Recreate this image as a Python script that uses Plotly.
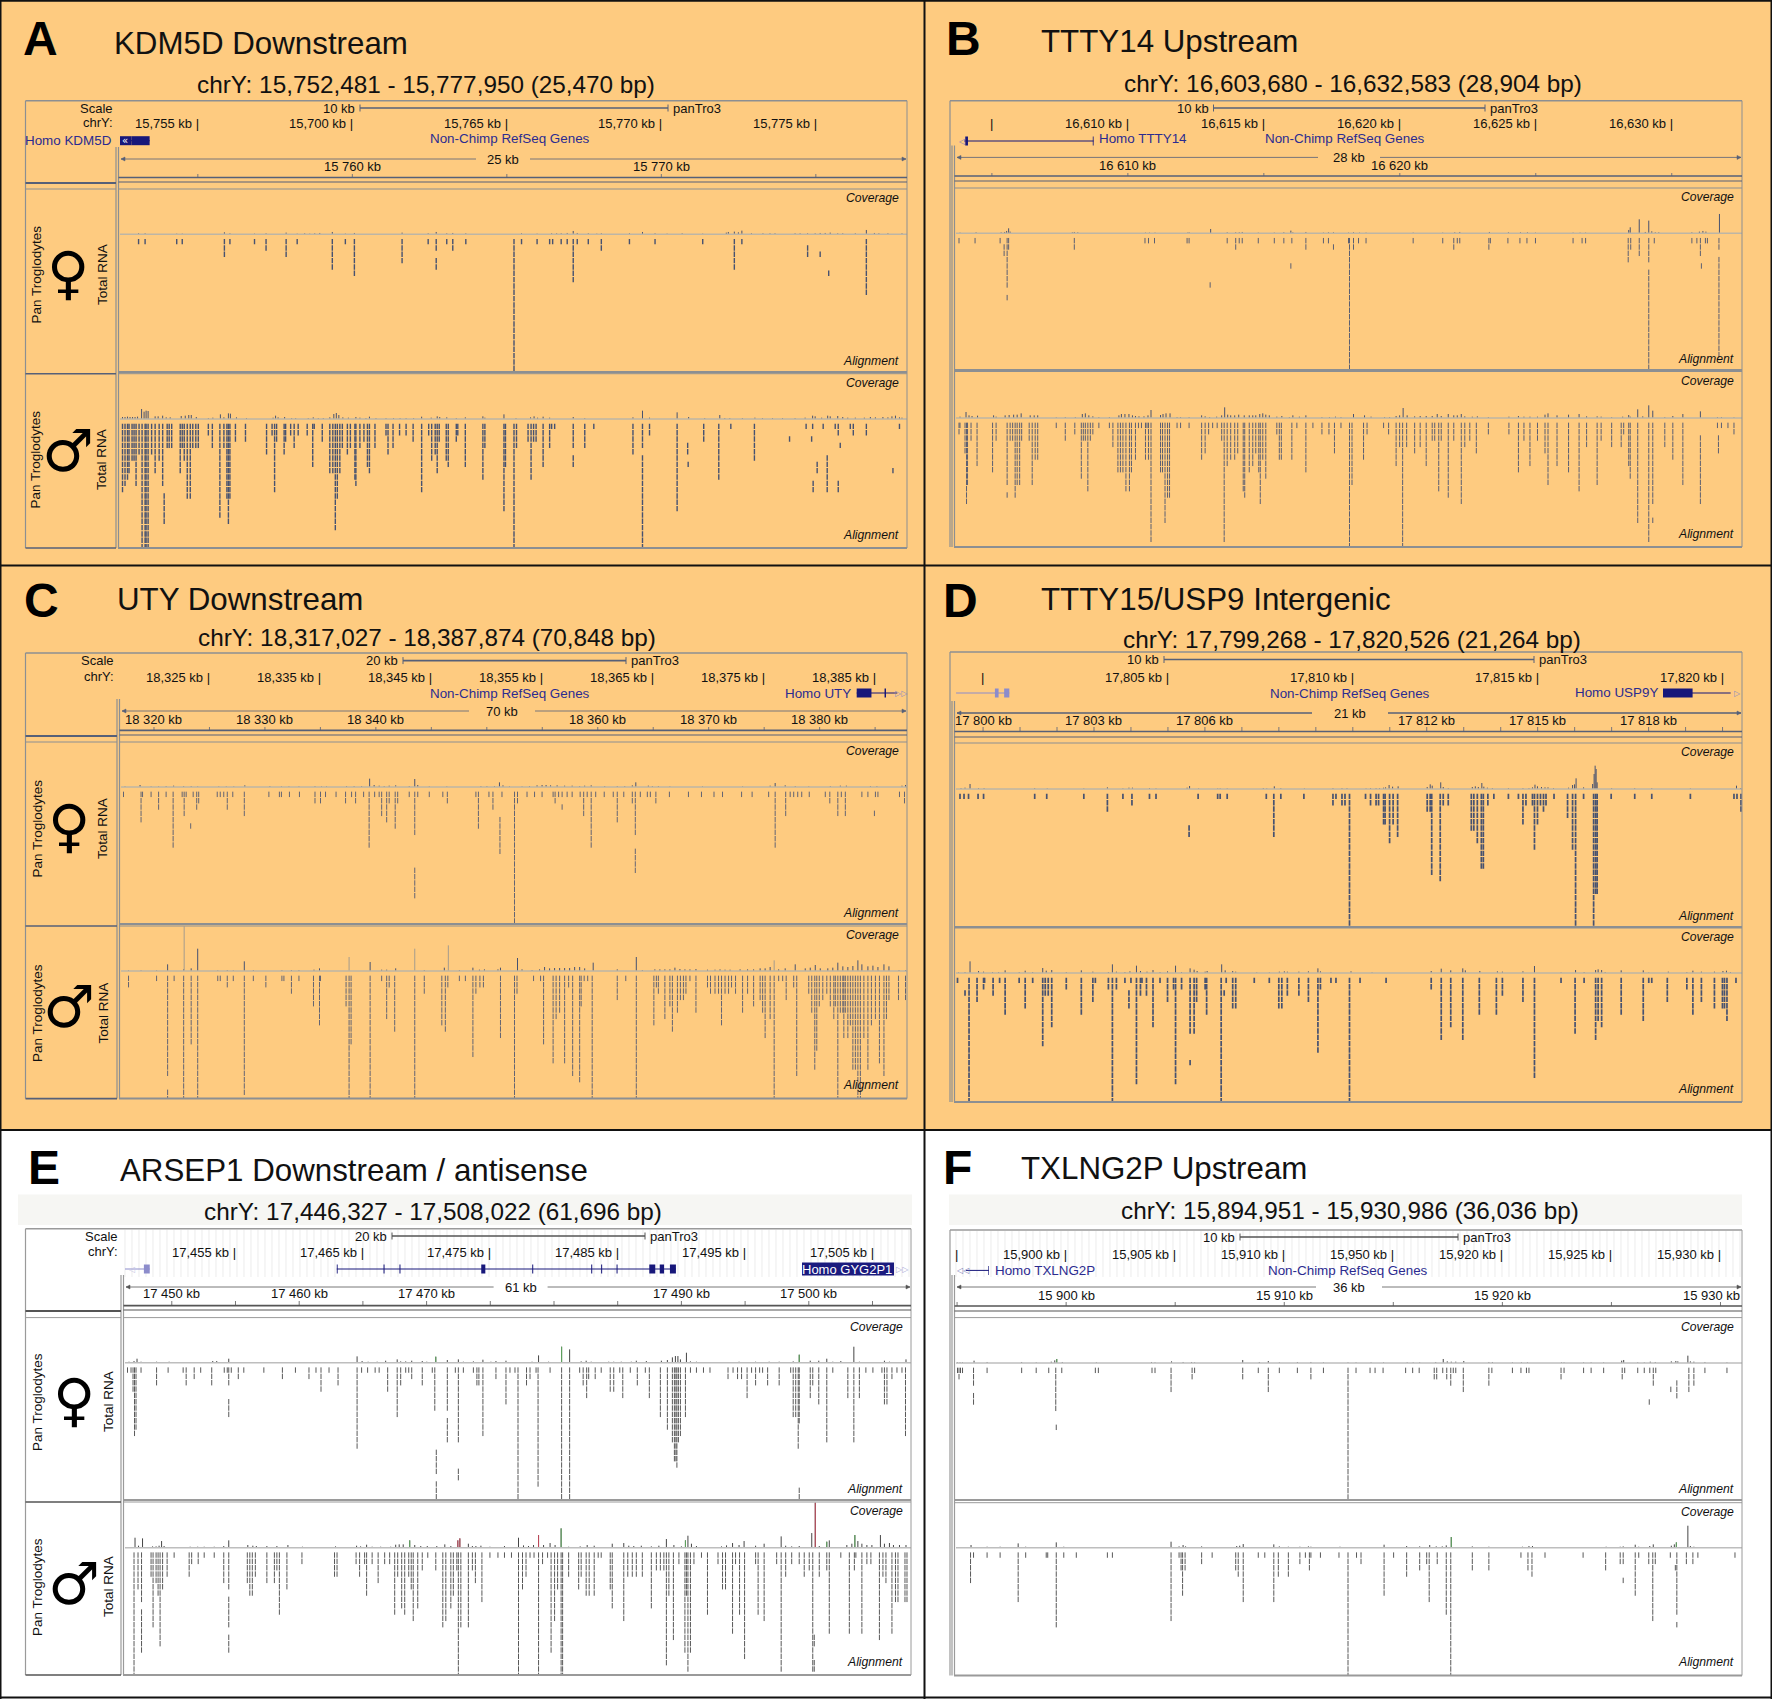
import plotly.graph_objects as go

W, H = 1772, 1699
BINS = 1568       # every window is read in 1568 equal position bins
ROW_PX = 6.33     # height of one stacked read
COV_PER_ROW = 19  # coverage units in one read row
SMALL = 13        # browser header text

# (bin, reads stacked), (bin, first row, last row) for detached reads, (bin, coverage)
A_F_STACKS = [(37,1),(50,1),(113,1),(124,1),(208,3),(219,1),(268,1),(291,2),(331,3),(353,1),(423,5),(449,1),(467,6),(562,4),(614,1),(630,2),(651,1),(663,2),(689,1),(785,21),(800,1),(831,1),(856,1),(862,1),(879,1),(891,1),(903,7),(911,1),(933,1),(959,2),(1015,1),(1066,1),(1161,1),(1224,5),(1239,1),(1487,9)]
A_F_FLOATS = [(630,4,5),(1370,2,3),(1395,3,3),(1412,6,6)]
A_F_COV = [(37,3),(50,3),(113,2),(124,2),(208,6),(219,3),(268,2),(291,3),(331,5),(353,2),(368,3),(378,2),(388,3),(398,4),(423,7),(449,2),(467,4),(562,5),(614,3),(630,7),(651,3),(663,4),(689,3),(800,3),(831,2),(860,3),(870,3),(879,3),(891,4),(903,10),(911,4),(933,3),(950,2),(959,3),(1015,3),(1041,7),(1066,3),(1090,2),(1120,3),(1161,2),(1208,5),(1212,7),(1224,8),(1232,6),(1239,11),(1258,3),(1281,3),(1295,3),(1305,3),(1345,3),(1355,3),(1370,3),(1385,3),(1395,4),(1405,4),(1415,5),(1430,3),(1440,3),(1465,3),(1487,13),(1503,4),(1512,3),(1530,3),(1558,3)]

A_M_STACKS = [(5,11),(10,10),(15,9),(18,8),(24,6),(28,6),(32,10),(38,5),(44,20),(50,20),(52,20),(56,20),(63,5),(70,8),(78,6),(85,10),(94,4),(98,4),(103,4),(120,8),(124,4),(128,6),(134,12),(140,12),(145,4),(151,4),(156,4),(176,2),(184,4),(199,15),(207,4),(213,12),(216,16),(219,12),(230,3),(250,3),(292,5),(303,2),(308,11),(312,3),(327,5),(330,3),(340,2),(347,4),(355,2),(373,2),(384,7),(387,1),(403,3),(418,8),(424,8),(429,17),(433,12),(438,8),(443,4),(453,5),(459,4),(468,9),(470,10),(478,4),(486,3),(493,7),(497,8),(508,4),(530,2),(534,5),(544,4),(557,2),(570,2),(584,3),(601,11),(615,2),(621,6),(628,5),(632,8),(636,3),(650,6),(654,7),(670,3),(673,2),(688,7),(723,9),(727,4),(765,14),(768,7),(785,20),(790,4),(813,3),(819,9),(824,3),(829,3),(843,7),(856,4),(860,1),(866,1),(903,4),(926,4),(944,1),(1022,5),(1041,4),(1055,2),(1110,14),(1163,3),(1193,9),(1217,1),(1264,6),(1367,1),(1380,1),(1401,1),(1425,1),(1431,2),(1455,1),(1461,2),(1487,2),(1553,1)]
A_M_FLOATS = [(88,12,16),(903,6,7),(1041,6,20),(1131,4,5),(1132,7,7),(1334,3,3),(1378,3,3),(1435,4,4),(1389,7,8),(1409,6,11),(1381,10,11),(1431,10,11),(1540,8,8)]
A_M_COV = [(5,6),(10,6),(15,7),(20,6),(25,6),(30,6),(35,7),(43,30),(48,22),(52,25),(56,24),(70,8),(76,8),(85,10),(92,5),(100,5),(122,9),(130,10),(137,12),(142,12),(152,6),(176,3),(185,4),(200,14),(207,5),(216,17),(220,16),(232,5),(252,3),(305,4),(310,10),(315,5),(328,6),(342,3),(350,3),(375,3),(385,5),(395,3),(405,3),(418,5),(426,15),(431,18),(436,12),(444,5),(455,4),(470,6),(478,4),(490,3),(497,7),(510,3),(530,3),(545,3),(558,3),(570,3),(585,3),(601,7),(620,4),(632,8),(637,6),(651,5),(670,3),(688,5),(723,8),(727,4),(765,14),(789,3),(818,5),(825,8),(832,4),(843,7),(856,4),(903,6),(926,3),(1022,5),(1041,25),(1055,4),(1110,20),(1133,6),(1165,3),(1195,12),(1205,3),(1215,3),(1240,3),(1265,4),(1280,3),(1300,3),(1320,3),(1345,3),(1365,4),(1380,10),(1385,8),(1398,4),(1410,10),(1415,8),(1430,9),(1440,6),(1450,4),(1465,4),(1483,4),(1495,6),(1505,5),(1520,6),(1530,5),(1538,8),(1545,10),(1553,5),(1558,4)]

B_F_STACKS = [(6,1),(38,1),(88,1),(102,8),(105,2),(236,2),(377,1),(384,1),(396,1),(461,1),(465,1),(541,1),(558,2),(565,1),(571,1),(603,1),(635,1),(654,1),(670,1),(698,2),(733,1),(743,1),(783,1),(785,21),(793,2),(803,1),(818,1),(912,1),(971,1),(993,2),(1000,1),(1005,1),(1063,2),(1066,1),(1101,1),(1125,1),(1139,1),(1156,1),(1231,1),(1249,1),(1256,1),(1341,4),(1346,2),(1363,3),(1382,4),(1393,1),(1468,1),(1478,1),(1485,3),(1495,1),(1499,1),(1522,2)]
B_F_FLOATS = [(96,2,3),(102,10,10),(668,5,5),(507,8,8),(1487,5,5),(753,2,2),(1382,6,21),(1522,4,19)]
B_F_COV = [(8,2),(40,3),(90,3),(97,4),(101,7),(105,15),(108,5),(232,3),(236,4),(243,3),(378,2),(386,2),(397,2),(462,2),(465,3),(508,13),(541,3),(558,3),(565,3),(571,4),(603,2),(635,2),(654,3),(668,8),(672,3),(698,4),(733,2),(743,3),(753,3),(783,2),(793,3),(805,2),(818,2),(912,2),(971,2),(995,3),(1005,4),(1064,4),(1102,3),(1126,3),(1140,3),(1156,2),(1231,2),(1245,2),(1256,2),(1342,10),(1345,18),(1363,42),(1375,4),(1382,38),(1388,6),(1395,3),(1402,3),(1468,3),(1483,5),(1490,7),(1496,5),(1523,58)]

B_M_STACKS = [(6,2),(8,1),(18,5),(21,13),(23,10),(30,3),(42,7),(73,8),(80,3),(102,10),(108,3),(113,3),(118,12),(122,10),(127,10),(131,3),(146,3),(152,10),(158,6),(163,6),(200,1),(218,3),(237,2),(250,9),(254,3),(258,3),(263,11),(268,3),(273,2),(285,1),(306,1),(313,4),(323,8),(328,8),(333,8),(339,11),(346,11),(350,8),(358,6),(364,1),(370,1),(378,6),(381,1),(384,6),(389,19),(408,8),(412,8),(417,16),(422,12),(426,12),(441,1),(448,1),(465,1),(490,6),(497,5),(504,2),(512,1),(521,1),(530,3),(535,19),(541,7),(548,6),(556,6),(562,5),(573,11),(576,12),(585,8),(592,7),(598,5),(604,8),(607,13),(612,6),(618,9),(640,2),(645,6),(649,6),(670,6),(680,1),(698,8),(712,1),(730,2),(744,2),(755,5),(768,1),(785,20),(790,10),(813,6),(820,2),(853,1),(863,2),(878,7),(885,4),(891,20),(899,4),(915,5),(926,4),(938,7),(950,3),(955,3),(963,11),(968,3),(982,12),(993,3),(1008,13),(1015,4),(1025,3),(1038,5),(1062,2),(1103,2),(1122,8),(1133,3),(1145,7),(1160,3),(1175,5),(1181,10),(1199,7),(1222,8),(1243,11),(1258,4),(1279,10),(1287,3),(1308,4),(1327,4),(1332,2),(1342,7),(1345,9),(1360,16),(1382,6),(1390,13),(1414,4),(1430,6),(1450,10),(1519,1),(1527,1),(1540,1),(1552,2)]
B_M_FLOATS = [(102,12,12),(1382,7,19),(1390,16,16),(1485,3,13),(1521,3,5)]
B_M_COV = [(8,4),(20,18),(26,8),(32,6),(43,7),(75,8),(80,4),(98,8),(106,9),(115,10),(122,10),(130,14),(148,8),(156,8),(163,8),(200,2),(218,3),(238,3),(252,12),(258,14),(265,8),(273,5),(285,3),(306,3),(325,8),(330,12),(337,12),(345,12),(352,8),(358,6),(365,5),(375,5),(383,8),(389,24),(408,9),(413,12),(419,14),(427,14),(441,3),(448,3),(465,3),(490,8),(497,5),(506,3),(520,4),(530,8),(536,32),(542,10),(548,8),(556,8),(564,10),(575,8),(585,8),(592,8),(598,8),(606,12),(612,14),(618,10),(625,8),(640,4),(650,6),(665,3),(672,8),(685,4),(698,8),(730,3),(745,3),(757,4),(768,3),(793,12),(815,8),(828,4),(855,3),(865,3),(878,6),(885,8),(892,30),(900,8),(915,5),(926,6),(938,6),(950,6),(960,12),(968,6),(982,12),(993,8),(1000,8),(1008,12),(1015,5),(1030,4),(1040,5),(1062,3),(1103,4),(1122,6),(1133,4),(1145,4),(1160,4),(1175,10),(1181,14),(1199,8),(1222,10),(1243,12),(1258,5),(1279,5),(1287,4),(1308,3),(1330,4),(1342,9),(1345,4),(1360,26),(1370,5),(1382,38),(1390,22),(1414,3),(1430,6),(1450,12),(1485,20),(1519,3),(1527,3),(1552,2)]

C_F_STACKS = [(5,1),(40,5),(43,1),(60,1),(75,3),(90,1),(104,9),(122,1),(126,4),(130,1),(144,1),(151,3),(155,2),(192,1),(198,1),(205,1),(212,3),(223,1),(246,4),(295,1),(316,1),(320,1),(336,1),(356,1),(387,2),(398,2),(408,1),(429,1),(448,2),(460,1),(468,2),(484,1),(495,9),(506,1),(515,1),(520,4),(530,5),(535,2),(547,6),(552,2),(575,1),(586,7),(592,1),(615,1),(642,1),(651,2),(708,1),(713,6),(734,1),(742,3),(760,1),(785,21),(791,2),(810,1),(825,1),(840,1),(862,1),(866,2),(873,1),(880,1),(890,1),(900,1),(916,1),(923,4),(930,1),(938,9),(947,1),(964,1),(982,1),(990,5),(1003,1),(1020,2),(1026,7),(1036,1),(1050,1),(1056,1),(1067,2),(1094,1),(1132,1),(1158,1),(1183,1),(1200,1),(1238,1),(1259,1),(1292,1),(1305,9),(1326,4),(1335,1),(1342,1),(1350,1),(1358,1),(1373,1),(1405,1),(1414,2),(1430,4),(1437,1),(1445,4),(1478,1),(1490,1),(1505,1),(1510,1),(1553,1),(1563,2)]
C_F_FLOATS = [(139,6,6),(756,5,10),(586,13,17),(1026,10,13),(1503,4,4),(880,3,3)]
C_F_COV = [(8,2),(38,6),(60,2),(75,2),(90,3),(105,4),(125,3),(140,3),(153,2),(195,2),(210,2),(225,2),(247,5),(297,3),(320,2),(335,2),(355,2),(387,3),(400,2),(410,2),(450,3),(465,3),(480,3),(496,25),(505,6),(515,4),(525,3),(535,4),(548,5),(575,3),(586,24),(592,6),(615,2),(650,2),(718,3),(730,3),(745,3),(755,14),(762,5),(775,2),(800,2),(815,3),(830,5),(840,6),(848,6),(857,5),(870,5),(885,4),(900,4),(915,3),(925,4),(938,5),(965,3),(990,3),(1005,3),(1020,5),(1027,14),(1052,4),(1060,3),(1072,3),(1095,2),(1160,2),(1240,2),(1295,4),(1305,12),(1325,5),(1345,3),(1372,2),(1415,3),(1435,4),(1447,4),(1495,3),(1508,3),(1558,4),(1565,6)]

C_M_STACKS = [(15,2),(71,1),(93,16),(106,1),(125,20),(140,11),(153,20),(193,1),(198,1),(212,2),(224,1),(246,19),(264,1),(289,2),(321,1),(325,1),(340,3),(355,1),(384,5),(396,8),(398,1),(449,5),(455,20),(459,11),(497,20),(520,1),(530,7),(535,2),(546,9),(586,20),(605,3),(640,8),(647,9),(652,2),(675,1),(687,1),(702,13),(708,3),(716,2),(723,2),(757,10),(785,20),(790,3),(823,1),(837,1),(843,11),(862,14),(868,7),(875,6),(885,14),(893,2),(901,16),(915,17),(918,5),(924,1),(931,1),(940,20),(990,4),(1007,1),(1028,20),(1063,8),(1068,2),(1072,3),(1085,7),(1095,5),(1100,9),(1110,6),(1116,4),(1122,4),(1127,3),(1135,1),(1147,6),(1170,2),(1176,3),(1185,3),(1192,3),(1198,8),(1205,3),(1212,3),(1218,2),(1226,3),(1240,6),(1250,3),(1262,5),(1275,4),(1280,6),(1285,10),(1295,7),(1303,20),(1312,1),(1320,1),(1327,4),(1342,2),(1348,16),(1372,3),(1378,6),(1384,15),(1388,12),(1393,5),(1400,4),(1408,3),(1415,5),(1422,7),(1425,5),(1430,20),(1435,6),(1440,6),(1442,10),(1445,6),(1450,10),(1455,8),(1460,15),(1465,15),(1470,20),(1475,20),(1482,10),(1490,15),(1497,8),(1505,7),(1513,14),(1522,16),(1527,7),(1532,4),(1551,4),(1565,4)]
C_M_FLOATS = [(93,19,20)]
C_M_COV = [(15,2),(40,2),(71,2),(93,20),(125,5),(126,134),(140,8),(153,67),(193,2),(212,3),(224,2),(246,29),(264,3),(321,3),(340,3),(355,3),(385,4),(396,8),(455,42),(497,27),(520,4),(530,4),(548,8),(586,67),(605,3),(645,10),(653,77),(675,3),(702,10),(715,4),(725,5),(752,5),(757,10),(791,39),(800,5),(820,3),(835,5),(845,12),(855,8),(865,9),(875,9),(885,9),(895,9),(905,12),(915,12),(925,8),(942,25),(990,5),(1028,42),(1040,3),(1065,5),(1075,5),(1085,5),(1095,5),(1105,10),(1115,6),(1125,5),(1135,5),(1147,6),(1170,4),(1185,4),(1195,5),(1205,4),(1215,4),(1235,5),(1250,5),(1262,5),(1275,8),(1285,8),(1295,12),(1303,32),(1312,5),(1325,8),(1345,20),(1365,8),(1375,10),(1385,18),(1395,8),(1410,8),(1420,10),(1430,25),(1440,14),(1450,12),(1460,15),(1470,32),(1478,20),(1490,14),(1500,16),(1510,12),(1522,20),(1532,14),(1552,3),(1565,3)]
C_M_FAINT = [126, 455, 653, 586, 1303]

D_F_STACKS = [(8,1),(16,1),(25,1),(44,1),(55,1),(157,1),(181,1),(255,1),(302,3),(333,1),(351,2),(386,1),(399,1),(483,1),(522,1),(527,1),(541,1),(619,1),(634,7),(648,1),(694,1),(752,2),(758,1),(770,2),(776,2),(785,21),(817,1),(827,2),(838,2),(843,2),(853,5),(856,5),(865,8),(872,5),(881,7),(940,3),(946,3),(949,13),(966,14),(972,2),(982,2),(1028,6),(1033,6),(1040,8),(1048,12),(1052,12),(1061,2),(1073,1),(1102,1),(1122,1),(1131,5),(1137,2),(1150,2),(1154,9),(1160,5),(1166,2),(1172,3),(1177,2),(1193,1),(1220,4),(1230,9),(1236,21),(1252,1),(1272,21),(1276,16),(1279,16),(1307,1),(1354,1),(1388,1),(1465,1),(1552,1),(1558,1),(1566,3)]
D_F_FLOATS = [(465,6,7)]
D_F_COV = [(10,3),(18,4),(28,15),(45,3),(56,3),(157,3),(182,2),(255,2),(302,5),(333,2),(345,4),(352,4),(386,3),(399,2),(461,4),(466,9),(484,2),(522,2),(527,2),(541,2),(613,3),(620,2),(635,8),(648,3),(695,2),(752,3),(770,3),(780,3),(818,2),(827,3),(838,3),(845,3),(853,4),(857,5),(864,12),(871,7),(882,8),(940,6),(946,14),(950,10),(967,20),(972,6),(982,3),(1030,6),(1036,8),(1042,6),(1049,18),(1053,7),(1060,4),(1070,3),(1102,3),(1131,3),(1143,3),(1150,5),(1155,13),(1160,8),(1168,6),(1175,5),(1181,5),(1192,3),(1222,4),(1230,12),(1234,14),(1237,32),(1252,5),(1270,15),(1273,45),(1275,70),(1277,60),(1279,20),(1308,3),(1354,3),(1388,3),(1465,2),(1557,10),(1565,3)]

D_M_STACKS = [(3,1),(26,20),(42,4),(55,2),(57,1),(74,3),(87,1),(98,6),(126,1),(138,5),(153,1),(173,11),(178,3),(184,3),(191,8),(220,2),(250,6),(273,4),(278,1),(304,2),(312,20),(320,2),(337,1),(349,1),(360,17),(368,3),(371,1),(380,3),(393,8),(407,1),(422,4),(434,2),(438,17),(450,2),(467,9),(475,9),(480,4),(497,2),(500,6),(529,20),(539,1),(552,5),(558,5),(595,1),(625,1),(644,5),(650,5),(661,3),(684,3),(703,4),(722,12),(727,2),(748,1),(758,1),(785,20),(806,1),(858,1),(948,2),(968,10),(987,8),(1011,10),(1044,6),(1078,6),(1090,3),(1131,4),(1154,16),(1207,1),(1235,9),(1253,1),(1276,10),(1281,7),(1288,8),(1327,6),(1371,7),(1382,1),(1388,1),(1419,4),(1458,2),(1470,6),(1487,4),(1513,5),(1529,5),(1533,5),(1538,7),(1556,1)]
D_M_FLOATS = [(18,3,3),(345,3,5),(467,14,14),(535,3,3)]
D_M_COV = [(5,2),(18,3),(28,35),(45,6),(55,4),(73,3),(85,3),(98,8),(126,3),(138,7),(153,3),(173,15),(180,7),(191,9),(220,3),(250,8),(273,4),(304,3),(312,26),(320,4),(337,3),(347,5),(360,22),(368,6),(381,4),(393,9),(407,3),(422,5),(438,22),(450,3),(467,14),(475,10),(481,6),(497,4),(501,6),(530,26),(537,8),(552,6),(558,4),(600,2),(625,2),(645,4),(655,5),(661,4),(684,4),(703,5),(722,14),(727,5),(748,2),(788,5),(830,2),(948,6),(968,13),(987,8),(1011,14),(1016,8),(1045,6),(1080,5),(1090,4),(1131,5),(1154,21),(1207,2),(1236,9),(1253,3),(1276,9),(1281,11),(1288,9),(1295,3),(1327,8),(1371,8),(1382,2),(1421,4),(1458,3),(1470,7),(1487,4),(1513,4),(1530,6),(1537,7),(1545,3)]

E_F_STACKS = [(5,1),(12,1),(16,4),(19,11),(22,10),(32,1),(63,3),(86,1),(116,1),(122,3),(138,2),(151,1),(173,3),(198,1),(204,1),(207,3),(212,1),(226,2),(237,1),(277,1),(314,2),(340,1),(367,2),(381,1),(391,4),(407,1),(425,3),(463,13),(472,1),(484,1),(499,1),(507,1),(524,4),(543,8),(550,3),(560,1),(566,1),(572,2),(593,3),(613,1),(618,7),(643,7),(659,1),(665,12),(675,1),(695,1),(702,3),(706,3),(714,11),(740,2),(760,6),(768,1),(778,1),(784,21),(801,3),(808,2),(820,1),(824,19),(848,1),(871,21),(887,21),(907,1),(914,3),(921,5),(925,2),(938,2),(950,1),(968,4),(975,4),(987,1),(993,5),(1008,1),(1022,3),(1038,1),(1046,5),(1068,8),(1082,10),(1092,12),(1096,15),(1099,15),(1101,16),(1104,12),(1108,11),(1118,8),(1128,1),(1140,1),(1154,1),(1167,1),(1203,2),(1213,1),(1222,2),(1230,2),(1241,5),(1250,1),(1258,3),(1266,1),(1272,1),(1282,3),(1305,3),(1328,1),(1333,8),(1338,8),(1343,13),(1345,9),(1367,5),(1372,3),(1384,6),(1400,12),(1412,1),(1442,5),(1454,12),(1465,5),(1478,1),(1492,1),(1510,1),(1515,6),(1520,6),(1530,2),(1540,1),(1550,1),(1557,11)]
E_F_FLOATS = [(621,14,17),(621,19,21),(665,17,18),(207,6,8),(643,9,12),(1345,20,21)]
E_F_COV = [(8,3),(18,5),(24,12),(32,3),(63,3),(88,3),(116,2),(125,2),(140,2),(150,2),(175,5),(183,5),(207,12),(225,2),(237,2),(310,2),(340,2),(367,2),(391,2),(407,2),(463,19),(473,5),(485,3),(503,3),(520,6),(543,10),(550,4),(560,4),(572,6),(593,5),(602,3),(620,18),(643,8),(665,10),(675,3),(695,4),(714,9),(730,3),(740,5),(760,6),(778,2),(800,2),(812,3),(825,22),(845,3),(871,48),(887,40),(910,4),(920,6),(930,3),(965,3),(975,3),(990,3),(1010,3),(1020,6),(1040,5),(1070,6),(1082,8),(1092,16),(1098,20),(1103,20),(1108,10),(1120,30),(1128,4),(1140,3),(1205,2),(1225,3),(1240,2),(1258,3),(1285,3),(1305,3),(1333,4),(1345,24),(1367,6),(1384,6),(1400,12),(1412,3),(1428,5),(1454,48),(1465,3),(1515,6),(1525,3),(1558,10)]
E_F_GREEN = [620, 871, 1345]

E_M_STACKS = [(18,20),(26,6),(33,8),(52,4),(56,12),(62,5),(66,7),(70,15),(75,6),(84,4),(98,1),(128,4),(133,2),(146,2),(158,1),(178,1),(197,5),(207,6),(244,5),(249,7),(254,7),(260,4),(283,5),(298,5),(303,3),(308,10),(323,6),(353,2),(418,4),(423,4),(461,2),(468,4),(478,2),(482,7),(493,2),(505,5),(518,2),(528,2),(538,10),(544,4),(552,9),(558,10),(566,4),(571,6),(575,11),(584,9),(593,3),(604,1),(620,3),(634,12),(640,11),(650,9),(655,7),(662,3),(665,20),(670,12),(685,12),(693,3),(699,5),(712,8),(728,1),(744,1),(757,1),(771,1),(785,20),(793,6),(800,4),(808,1),(816,1),(825,20),(833,2),(843,1),(850,16),(857,11),(863,6),(870,20),(873,20),(885,4),(905,6),(910,4),(920,7),(926,7),(936,7),(944,1),(950,1),(968,6),(972,9),(995,11),(1003,4),(1012,4),(1020,4),(1032,4),(1050,9),(1060,3),(1068,3),(1075,3),(1080,18),(1085,7),(1094,14),(1105,2),(1117,16),(1120,7),(1123,19),(1128,16),(1135,2),(1150,1),(1162,10),(1183,2),(1192,6),(1198,6),(1212,13),(1218,2),(1226,10),(1236,17),(1258,2),(1263,10),(1275,11),(1300,2),(1309,19),(1318,4),(1330,2),(1345,2),(1355,4),(1365,3),(1372,19),(1385,4),(1400,3),(1405,13),(1428,1),(1445,13),(1455,3),(1458,1),(1470,13),(1480,2),(1488,2),(1505,14),(1512,4),(1518,5),(1530,13),(1537,8),(1542,8),(1556,8),(1560,8)]
E_M_FLOATS = [(33,10,16),(207,8,12),(207,14,16),(1375,14,15),(1375,18,19)]
E_M_COV = [(20,30),(27,6),(35,28),(55,4),(62,4),(68,6),(73,20),(78,5),(130,3),(145,3),(158,3),(178,3),(197,5),(207,22),(245,8),(255,6),(262,5),(283,5),(303,5),(325,8),(354,3),(420,4),(462,6),(470,4),(482,9),(493,3),(510,3),(530,3),(540,9),(547,10),(555,10),(568,22),(578,8),(590,5),(603,5),(622,5),(638,10),(650,5),(664,22),(668,28),(685,12),(693,5),(700,5),(710,6),(728,3),(757,5),(785,30),(795,7),(805,5),(815,8),(825,38),(835,8),(848,14),(858,8),(870,58),(885,3),(908,4),(922,8),(936,6),(972,12),(995,14),(1005,6),(1015,5),(1030,6),(1050,4),(1065,6),(1080,26),(1095,8),(1110,4),(1118,22),(1123,36),(1130,12),(1140,5),(1190,4),(1200,7),(1212,14),(1225,8),(1235,20),(1258,6),(1275,12),(1309,34),(1318,6),(1330,4),(1345,5),(1370,44),(1377,135),(1385,5),(1400,18),(1405,22),(1440,8),(1450,12),(1456,38),(1462,20),(1470,12),(1480,8),(1490,8),(1507,38),(1515,12),(1525,14),(1533,8),(1545,8),(1558,8)]
E_M_GREEN = [568, 870, 1118, 1400, 1456]
E_M_RED = [664, 668, 825, 1377]

F_F_STACKS = [(3,1),(6,2),(9,1),(13,1),(35,3),(62,1),(131,1),(160,1),(185,1),(199,7),(211,1),(278,1),(284,1),(391,1),(397,1),(429,4),(471,2),(476,1),(572,2),(603,1),(623,4),(645,1),(681,1),(708,2),(733,1),(782,21),(798,1),(826,1),(836,1),(852,1),(897,1),(911,1),(924,1),(954,2),(959,2),(971,1),(979,2),(987,3),(992,1),(997,1),(1012,4),(1063,3),(1069,1),(1110,1),(1127,1),(1138,1),(1143,1),(1207,2),(1213,1),(1252,1),(1267,1),(1292,1),(1329,2),(1334,1),(1360,1),(1373,1),(1384,1),(1391,3),(1396,1),(1462,4),(1472,3),(1494,1),(1538,1)]
F_F_FLOATS = [(35,5,6),(200,10,10),(1426,4,4),(1438,3,5),(1383,6,6)]
F_F_COV = [(3,2),(8,2),(13,2),(36,7),(62,3),(131,3),(160,2),(190,4),(197,8),(201,12),(212,3),(280,2),(390,3),(397,2),(430,5),(453,3),(470,3),(476,2),(572,9),(605,3),(623,6),(645,2),(681,3),(708,3),(733,2),(782,2),(798,2),(828,2),(853,2),(900,2),(912,2),(925,2),(957,3),(972,12),(980,5),(988,4),(997,4),(1013,6),(1063,3),(1070,3),(1110,2),(1128,2),(1140,2),(1208,2),(1213,2),(1252,2),(1267,2),(1292,2),(1328,7),(1332,9),(1360,2),(1373,2),(1385,4),(1395,3),(1427,5),(1436,6),(1440,5),(1460,22),(1465,5),(1472,4),(1494,3),(1538,2)]
F_F_GREEN = [201]

F_M_STACKS = [(29,5),(35,1),(62,1),(88,1),(124,8),(139,1),(180,1),(183,1),(200,12),(215,1),(240,1),(302,1),(312,1),(429,11),(445,1),(449,3),(452,7),(457,3),(490,2),(511,1),(558,3),(563,4),(573,8),(603,1),(616,1),(634,8),(643,4),(663,4),(686,2),(697,1),(705,3),(708,1),(727,1),(764,1),(782,20),(799,1),(808,2),(854,7),(873,1),(899,4),(925,3),(939,2),(944,8),(960,2),(978,10),(987,20),(1030,3),(1063,3),(1127,1),(1141,3),(1149,4),(1175,1),(1251,1),(1296,3),(1325,2),(1331,2),(1355,7),(1362,1),(1382,2),(1390,11),(1395,2),(1425,1),(1438,10),(1457,2),(1470,2),(1480,1),(1554,1)]
F_M_FLOATS = [(1331,5,5),(1438,12,12),(1435,3,3)]
F_M_COV = [(30,8),(62,3),(88,3),(124,13),(139,3),(182,2),(200,16),(215,3),(240,2),(303,2),(313,2),(429,18),(445,4),(453,8),(458,4),(490,4),(511,2),(560,5),(566,6),(573,11),(603,2),(634,10),(645,4),(663,3),(686,3),(703,4),(708,3),(727,2),(766,3),(800,2),(810,2),(854,9),(899,5),(925,4),(945,8),(958,4),(970,4),(978,7),(988,32),(1030,4),(1063,3),(1130,3),(1143,5),(1150,5),(1175,2),(1250,1),(1297,3),(1325,3),(1331,4),(1355,9),(1362,3),(1384,5),(1391,10),(1427,6),(1433,10),(1437,16),(1460,66),(1465,5),(1472,3),(1555,2)]
F_M_GREEN = [988, 1437]

# browser coordinate rows, tick positions in kb
A_POS_KB = [15755, 15760, 15765, 15770, 15775]
A_POS_LABELS = ['15,755 kb |', '15,700 kb |', '15,765 kb |', '15,770 kb |', '15,775 kb |']
A_RULER_KB = [15760, 15770]
B_POS_KB = [16605, 16610, 16615, 16620, 16625, 16630]
B_POS_LABELS = ['|', '16,610 kb |', '16,615 kb |', '16,620 kb |', '16,625 kb |', '16,630 kb |']
B_RULER_KB = [16610, 16620]
C_POS_KB = [18325, 18335, 18345, 18355, 18365, 18375, 18385]
C_POS_LABELS = ['18,325 kb |', '18,335 kb |', '18,345 kb |', '18,355 kb |', '18,365 kb |', '18,375 kb |', '18,385 kb |']
C_RULER_KB = [18320, 18330, 18340, 18360, 18370, 18380]
D_POS_KB = [17800, 17805, 17810, 17815, 17820]
D_POS_LABELS = ['|', '17,805 kb |', '17,810 kb |', '17,815 kb |', '17,820 kb |']
D_RULER_KB = [17800, 17803, 17806, 17812, 17815, 17818]
E_POS_KB = [17455, 17465, 17475, 17485, 17495, 17505]
E_POS_LABELS = ['17,455 kb |', '17,465 kb |', '17,475 kb |', '17,485 kb |', '17,495 kb |', '17,505 kb |']
E_RULER_KB = [17450, 17460, 17470, 17490, 17500]
F_POS_KB = [15895, 15900, 15905, 15910, 15915, 15920, 15925, 15930]
F_POS_LABELS = ['|', '15,900 kb |', '15,905 kb |', '15,910 kb |', '15,950 kb |', '15,920 kb |', '15,925 kb |', '15,930 kb |']
F_RULER_KB = [15900, 15910, 15920, 15929.6]

# gene models: intron span and exons in kb
A_GENE = [((15752.48, 15753.44), [(15752.48, 15752.85), (15752.85, 15753.44)], 'dark')]
B_GENE = [((16603.98, 16608.74), [(16604.02, 16604.12), (16608.71, 16608.74)], 'dark')]
C_GENE = [((18383.34, 18387.0), [(18383.34, 18384.67), (18385.85, 18385.98)], 'dark')]
D_GENE = [((17799.27, 17800.71), [(17800.32, 17800.42), (17800.57, 17800.71)], 'light'),
          ((17818.39, 17820.22), [(17818.39, 17819.19)], 'dark')]
E_GENE = [((17446.33, 17448.27), [(17447.81, 17448.27)], 'light'),
          ((17462.95, 17489.57), [(17462.95, 17463.02), (17466.62, 17466.7), (17467.87, 17467.95), (17474.29, 17474.61),
                                  (17478.29, 17478.37), (17482.92, 17483.0), (17483.7, 17483.78), (17484.91, 17484.99),
                                  (17487.48, 17487.95), (17488.3, 17488.64), (17489.1, 17489.57)], 'dark')]
F_GENE = [((15895.4, 15896.46), [(15896.43, 15896.46)], 'dark')]

ORANGE = '#FECB80'
INK_ORANGE = '#475270'
INK_WHITE = '#454545'

PANELS = [
    dict(letter='A', title='KDM5D Downstream', chrom='chrY: 15,752,481 - 15,777,950 (25,470 bp)', start=15752481, end=15777950,
         bg=ORANGE, ink=INK_ORANGE, lw=1.4, step=5, pos=A_POS_KB, pos_text=A_POS_LABELS, ruler=A_RULER_KB, genes=A_GENE,
         ruler_text='25 kb', ruler_x=503, ruler_gap=27, bar_text='10 kb', bar=(360, 668), letter_x=22, letter_y=38, title_x=112.5, title_y=43, chrom_x=426, chrom_y=85,
         box=(25.5, 907), track_x=120, top=100.7, bar_y=108, pos_y=123.6, gene_y=140.7, ruler_y=159, rlabel_y=166, tick_y=(174, 177.5), line2=182,
         female=(189, 372, 234.3), male=(373.7, 548, 419), side=True, side_x=(35.6, 68, 102), side_yf=(275, 273), side_ym=(460, 451),
         genelabels=[('Homo KDM5D', 113, 'right', 140.7), ('Non-Chimp RefSeq Genes', 510, 'center', 139)],
         marks=[('«', 125, 'center', '#FFFFFF', 10)],
         f_data=(A_F_STACKS, A_F_FLOATS, A_F_COV), m_data=(A_M_STACKS, A_M_FLOATS, A_M_COV)),
    dict(letter='B', title='TTTY14 Upstream', chrom='chrY: 16,603,680 - 16,632,583 (28,904 bp)', start=16603680, end=16632583,
         bg=ORANGE, ink=INK_ORANGE, lw=0.9, step=5, pos=B_POS_KB, pos_text=B_POS_LABELS, ruler=B_RULER_KB, genes=B_GENE,
         ruler_text='28 kb', ruler_x=1349, ruler_gap=31, bar_text='10 kb', bar=(1213.5, 1485), letter_x=945, letter_y=38, title_x=1040, title_y=42, chrom_x=1353, chrom_y=84,
         box=(950, 1742), track_x=956, top=100.7, bar_y=108, pos_y=124, gene_y=141, ruler_y=157.4, rlabel_y=165, tick_y=(173, 176), line2=181,
         female=(188, 370, 233.3), male=(371.5, 547, 418), side=False,
         genelabels=[('Homo TTTY14', 1098, 'left', 139), ('Non-Chimp RefSeq Genes', 1345, 'center', 139)],
         marks=[('◁', 961, 'center', '#7C7CB8', 8)],
         f_data=(B_F_STACKS, B_F_FLOATS, B_F_COV), m_data=(B_M_STACKS, B_M_FLOATS, B_M_COV)),
    dict(letter='C', title='UTY Downstream', chrom='chrY: 18,317,027 - 18,387,874 (70,848 bp)', start=18317027, end=18387874,
         bg=ORANGE, ink=INK_ORANGE, lw=0.85, step=5, pos=C_POS_KB, pos_text=C_POS_LABELS, ruler=C_RULER_KB, genes=C_GENE,
         ruler_text='70 kb', ruler_x=502, ruler_gap=33, bar_text='20 kb', bar=(403, 626), letter_x=23, letter_y=600, title_x=115.5, title_y=599.5, chrom_x=427, chrom_y=637.7,
         box=(25.5, 907), track_x=121, top=653, bar_y=660.6, pos_y=677.7, gene_y=693, ruler_y=711, rlabel_y=719, tick_y=(727, 730.4), line2=735,
         female=(742, 924, 787), male=(926, 1098.6, 971), side=True, side_x=(37, 69, 102.6), side_yf=(828.5, 826.5), side_ym=(1013, 1007),
         genelabels=[('Homo UTY', 852, 'right', 693), ('Non-Chimp RefSeq Genes', 510, 'center', 693)],
         marks=[('▷▷', 901, 'center', '#8A8AC4', 8)],
         f_data=(C_F_STACKS, C_F_FLOATS, C_F_COV), m_data=(C_M_STACKS, C_M_FLOATS, C_M_COV), m_faint=C_M_FAINT),
    dict(letter='D', title='TTTY15/USP9 Intergenic', chrom='chrY: 17,799,268 - 17,820,526 (21,264 bp)', start=17799268, end=17820526,
         bg=ORANGE, ink=INK_ORANGE, lw=1.7, step=1, pos=D_POS_KB, pos_text=D_POS_LABELS, ruler=D_RULER_KB, genes=D_GENE,
         ruler_text='21 kb', ruler_x=1350, ruler_gap=38, bar_text='10 kb', bar=(1164, 1534), letter_x=942, letter_y=600, title_x=1040, title_y=599.5, chrom_x=1352, chrom_y=639.5,
         box=(950, 1742), track_x=956, top=652, bar_y=659.5, pos_y=677, gene_y=693, ruler_y=713, rlabel_y=720.6, tick_y=(727, 731.5), line2=737,
         female=(743, 927, 789), male=(928, 1102, 973), side=False,
         genelabels=[('Homo USP9Y', 1659, 'right', 692), ('Non-Chimp RefSeq Genes', 1350, 'center', 694)],
         marks=[('▷', 1737, 'center', '#8A8AC4', 8)],
         f_data=(D_F_STACKS, D_F_FLOATS, D_F_COV), m_data=(D_M_STACKS, D_M_FLOATS, D_M_COV)),
    dict(letter='E', title='ARSEP1 Downstream / antisense', chrom='chrY: 17,446,327 - 17,508,022 (61,696 bp)', start=17446327, end=17508022,
         bg='#FFFFFF', ink=INK_WHITE, lw=0.9, step=5, pos=E_POS_KB, pos_text=E_POS_LABELS, ruler=E_RULER_KB, genes=E_GENE,
         ruler_text='61 kb', ruler_x=520.6, ruler_gap=27, bar_text='20 kb', bar=(392, 645), letter_x=27, letter_y=1167, title_x=119, title_y=1170, chrom_x=433, chrom_y=1211.6,
         box=(25.5, 911), track_x=125, top=1228.7, bar_y=1236, pos_y=1252.7, gene_y=1269, ruler_y=1287, rlabel_y=1293.3, tick_y=(1301, 1305.6), line2=1310,
         female=(1317.6, 1500, 1362.7), male=(1502, 1675, 1547.7), side=True, side_x=(37, 74, 108), side_yf=(1402, 1400), side_ym=(1587, 1584),
         strip=(18, 912, 1194.6, 1225),
         genelabels=[('Homo GYG2P1', 847, 'center', 1269)],
         marks=[('▷▷', 902, 'center', '#A9A9D6', 8), ('◁', 131, 'center', '#C8C8E4', 8)],
         f_data=(E_F_STACKS, E_F_FLOATS, E_F_COV), m_data=(E_M_STACKS, E_M_FLOATS, E_M_COV), f_green=E_F_GREEN, m_green=E_M_GREEN, m_red=E_M_RED),
    dict(letter='F', title='TXLNG2P Upstream', chrom='chrY: 15,894,951 - 15,930,986 (36,036 bp)', start=15894951, end=15930986,
         bg='#FFFFFF', ink=INK_WHITE, lw=0.9, step=5, pos=F_POS_KB, pos_text=F_POS_LABELS, ruler=F_RULER_KB, genes=F_GENE,
         ruler_text='36 kb', ruler_x=1349, ruler_gap=33, bar_text='10 kb', bar=(1240, 1458), letter_x=942, letter_y=1167, title_x=1020, title_y=1168, chrom_x=1350, chrom_y=1210.6,
         box=(950, 1742), track_x=956, top=1230, bar_y=1237, pos_y=1254.6, gene_y=1270.4, ruler_y=1287, rlabel_y=1295, tick_y=(1302, 1306), line2=1311,
         female=(1317.6, 1500, 1363), male=(1502.7, 1675.5, 1547.7), side=False,
         strip=(949, 1742, 1194.6, 1225),
         genelabels=[('Homo TXLNG2P', 993.6, 'left', 1270), ('Non-Chimp RefSeq Genes', 1348, 'center', 1270)],
         marks=[('◁◁', 962, 'center', '#7C7CB8', 8)],
         f_data=(F_F_STACKS, F_F_FLOATS, F_F_COV), m_data=(F_M_STACKS, F_M_FLOATS, F_M_COV), f_green=F_F_GREEN, m_green=F_M_GREEN),
]


def px(x):
    return x / W


def py(y):
    return 1 - y / H


annotations = []
shapes = []


def text(x, y, s, size, anchor='left', color='#111111', bold=False, italic=False, angle=0, family='Liberation Sans', xref='paper', xshift=0):
    annotations.append(dict(
        x=x if xref != 'paper' else px(x), y=py(y), xref=xref, yref='paper', text=('<b>%s</b>' % s) if bold else s,
        showarrow=False, xanchor=anchor, yanchor='middle', textangle=angle, borderpad=0, xshift=xshift,
        font=dict(family=family, size=size, color=color, style='italic' if italic else 'normal')))


def line(x0, y0, x1, y1, color, width=1.0, xref='paper'):
    shapes.append(dict(type='line', xref=xref, yref='paper', x0=x0 if xref != 'paper' else px(x0), x1=x1 if xref != 'paper' else px(x1),
                       y0=py(y0), y1=py(y1), line=dict(color=color, width=width)))


def rect(x0, y0, x1, y1, fill, border=None, width=0, layer='below', xref='paper'):
    shapes.append(dict(type='rect', xref=xref, yref='paper', layer=layer, x0=x0 if xref != 'paper' else px(x0), x1=x1 if xref != 'paper' else px(x1),
                       y0=py(y0), y1=py(y1), fillcolor=fill, line=dict(color=border or fill, width=width)))


def arrowhead(x, y, direction, color):
    path = 'M%.5f,%.5f L%.5f,%.5f L%.5f,%.5f Z' % (px(x), py(y), px(x + 4 * direction), py(y - 2), px(x + 4 * direction), py(y + 2))
    shapes.append(dict(type='path', xref='paper', yref='paper', path=path, fillcolor=color, line=dict(color=color, width=0.5)))


fig = go.Figure()
layout_axes = {}
GAP_ROWS = 14 / 19

for i, p in enumerate(PANELS):
    x0, x1 = p['track_x'], p['box'][1]
    span = p['end'] - p['start']
    xname = 'x' if i == 0 else 'x%d' % (i + 1)
    layout_axes['xaxis' if i == 0 else 'xaxis%d' % (i + 1)] = dict(
        domain=[px(x0), px(x1)], range=[p['start'], p['end']], visible=False, fixedrange=True,
        anchor='y%d' % (2 * i + 1) if i else 'y')
    light = p['bg'] != ORANGE
    frame = '#9A9A9A' if light else '#8C8F92'
    dark = '#555555' if light else '#566078'
    base_col = '#BEBEBE' if light else '#BDB6A6'

    for k, (box, data, green, red, faint) in enumerate([
            (p['female'], p['f_data'], p.get('f_green', []), [], []),
            (p['male'], p['m_data'], p.get('m_green', []), p.get('m_red', []), p.get('m_faint', []))]):
        yn = 2 * i + 1 + k
        top, bottom, base = box
        yname = 'y' if yn == 1 else 'y%d' % yn
        layout_axes['yaxis' if yn == 1 else 'yaxis%d' % yn] = dict(
            domain=[py(bottom), py(top)], range=[-(bottom - base) / ROW_PX, (base - top) / ROW_PX], visible=False,
            fixedrange=True, anchor=xname)
        if light:
            rect(x0, top, x1, bottom, '#FBFBFB')
        stacks, floats, cov = data
        to_bp = lambda b: p['start'] + b * span / BINS
        xs, ys = [], []
        for b, d in stacks:
            xs += [to_bp(b), to_bp(b), None]
            ys += [-GAP_ROWS, -(GAP_ROWS + d), None]
        for b, a, e in floats:
            xs += [to_bp(b), to_bp(b), None]
            ys += [-(GAP_ROWS + a - 1), -(GAP_ROWS + e), None]
        fig.add_trace(go.Scatter(x=xs, y=ys, mode='lines', xaxis=xname, yaxis=yname, hoverinfo='skip', showlegend=False,
                                 line=dict(color=p['ink'], width=p['lw'], dash='5.4px,0.93px')))
        cx, cy = [], []
        for b, h in cov:
            if b in faint:
                continue
            cx += [to_bp(b), to_bp(b), None]
            cy += [0, h / COV_PER_ROW, None]
        fig.add_trace(go.Scatter(x=cx, y=cy, mode='lines', xaxis=xname, yaxis=yname, hoverinfo='skip', showlegend=False,
                                 line=dict(color=p['ink'], width=1)))
        heights = dict(cov)
        for bins, col in ((green, '#5FA85F'), (red, '#C2485A'), (faint, '#A49C8C')):
            if not bins:
                continue
            mx, my = [], []
            for b in bins:
                mx += [to_bp(b), to_bp(b), None]
                my += [0, heights.get(b, 6) / COV_PER_ROW, None]
            fig.add_trace(go.Scatter(x=mx, y=my, mode='lines', xaxis=xname, yaxis=yname, hoverinfo='skip', showlegend=False,
                                     line=dict(color=col, width=1)))
        line(x0, base, x1, base, base_col, 1.6)
        line(x0 - 2, bottom, x1, bottom, frame, 2)
        line(x0 - 2, top, x1, top, frame, 1)
        text(x1 - 7.5, top + 9.3, 'Coverage', 12.2, 'right', italic=True)
        text(x1 - 7.5, bottom - (11.3 if k == 0 else 13.5), 'Alignment', 12.2, 'right', italic=True)

    # panel furniture
    rect(p['box'][0] - 25 if i % 2 == 0 else 925, p['top'] - 100.7 if p['top'] < 200 else (566 if i < 4 else 1131),
         925 if i % 2 == 0 else W, 565 if i < 2 else (1130 if i < 4 else H), p['bg'])
    if 'strip' in p:
        a, b, c, d = p['strip']
        rect(a, c, b, d, '#F6F6F3')
        stripes = ''.join('M%.5f,%.5f V%.5f ' % (px(v), py(p['top'] + 1), py(p['ruler_y'] - 10))
                          for v in [x0 + 7 * n for n in range(int((x1 - x0) / 7) + 1)])
        shapes.append(dict(type='path', xref='paper', yref='paper', layer='below', path=stripes, line=dict(color='#E4E4E4', width=0.7)))

    text(p['letter_x'], p['letter_y'], p['letter'], 48, bold=True, color='#000000')
    text(p['title_x'], p['title_y'], p['title'], 31.3, color='#111111')
    text(p['chrom_x'], p['chrom_y'], p['chrom'], 24.3, 'center')

    bx0, bx1 = p['box']
    bottom = p['male'][1]
    line(bx0, p['top'], bx1, p['top'], frame, 1.5)
    line(bx1, p['top'], bx1, bottom, frame, 1)
    line(bx0, p['top'], bx0, bottom, frame, 1.2)
    line(x0 - 4, p['ruler_y'] - 12, x0 - 4, bottom, frame, 1.2)
    line(x0 - 1.5, p['ruler_y'] - 12, x0 - 1.5, bottom, frame, 1.2)
    line(x0 - 1.5, p['tick_y'][1], x1, p['tick_y'][1], dark, 1.6)
    line(x0 - 1.5, p['line2'], x1, p['line2'], dark, 1.2)
    if p['side']:
        line(bx0, p['line2'] + 1, x0 - 4, p['line2'] + 1, dark, 2.2)
        line(bx0, p['female'][0], x0 - 4, p['female'][0], frame, 1)
        line(bx0, p['male'][0], x0 - 4, p['male'][0], dark, 1.6)
        line(bx0, bottom, x0 - 4, bottom, dark, 1.6)
        text(x0 - 6, p['bar_y'], 'Scale', SMALL, 'right')
        text(x0 - 6, p['pos_y'] - 1, 'chrY:', SMALL, 'right')
        for (ypan, ysym), sym in ((p['side_yf'], '♀'), (p['side_ym'], '♂')):
            text(p['side_x'][0], ypan, 'Pan Troglodytes', 13.5, 'center', angle=-90)
            text(p['side_x'][2], ypan, 'Total RNA', 13.5, 'center', angle=-90)
            text(p['side_x'][1], ysym, sym, 58, 'center', family='DejaVu Sans', color='#000000')

    # scale bar
    a, b = p['bar']
    line(a, p['bar_y'], b, p['bar_y'], dark, 1.6)
    line(a, p['bar_y'] - 3.5, a, p['bar_y'] + 3.5, dark, 1)
    line(b, p['bar_y'] - 3.5, b, p['bar_y'] + 3.5, dark, 1)
    text(a - 4, p['bar_y'], p['bar_text'], SMALL, 'right')
    text(b + 4, p['bar_y'], 'panTro3', SMALL, 'left')

    for kb, s in zip(p['pos'], p['pos_text']):
        text(kb * 1000, p['pos_y'], s, SMALL, 'right', xref=xname, xshift=2)
    for t in p['genelabels']:
        if t[0] == 'Homo GYG2P1':
            rect(802, t[3] - 6.5, 894, t[3] + 6.5, '#1A1A7E', layer='above')
            text(t[1], t[3], t[0], SMALL, t[2], color='#FFFFFF')
        else:
            text(t[1], t[3], t[0], 13.4, t[2], color='#2B2B90')

    # ruler with its span label
    rc, gap = p['ruler_x'], p['ruler_gap']
    ruler_w = 1.4 if p['letter'] == 'D' else 0.8
    line(x0 + 1, p['ruler_y'], rc - gap, p['ruler_y'], dark, ruler_w)
    line(rc + gap, p['ruler_y'], x1 - 1, p['ruler_y'], dark, ruler_w)
    arrowhead(x0 + 1, p['ruler_y'], 1, dark)
    arrowhead(x1 - 1, p['ruler_y'], -1, dark)
    text(rc, p['ruler_y'], p['ruler_text'], SMALL, 'center')
    for kb in p['ruler']:
        whole = round(kb)
        text(kb * 1000, p['rlabel_y'], '%d %03d kb' % (whole // 1000, whole % 1000), SMALL, 'center', xref=xname)
    first = p['start'] // (p['step'] * 1000) + 1
    last = p['end'] // (p['step'] * 1000)
    for n in range(first, last + 1):
        v = n * p['step'] * 1000
        line(v, p['tick_y'][0], v, p['tick_y'][1], dark, 0.8, xref=xname)

    # gene models
    for span_kb, exons, tone in p['genes']:
        col = '#17177A' if tone == 'dark' else '#8C8CCB'
        line(span_kb[0] * 1000, p['gene_y'], span_kb[1] * 1000, p['gene_y'], col, 1, xref=xname)
        for a, b in exons:
            rect(a * 1000, p['gene_y'] - 4.5, b * 1000, p['gene_y'] + 4.5, col, layer='above', xref=xname)
    for s, mx, anchor, col, size in p['marks']:
        text(mx, p['gene_y'], s, size, anchor, color=col, family='DejaVu Sans')

# frame of the whole figure
for v in (0.5, 924.5, W - 0.5):
    line(v, 0, v, H, '#111111', 2)
for v in (0.8, 565.5, 1130, H - 1.5):
    line(0, v, W, v, '#111111', 2)

fig.update_layout(width=W, height=H, margin=dict(l=0, r=0, t=0, b=0), paper_bgcolor='white', plot_bgcolor='rgba(0,0,0,0)',
                  showlegend=False, annotations=annotations, shapes=shapes, **layout_axes)
fig.write_html("out.html", config={'displayModeBar': False}, post_script="document.body.style.margin='0';")
